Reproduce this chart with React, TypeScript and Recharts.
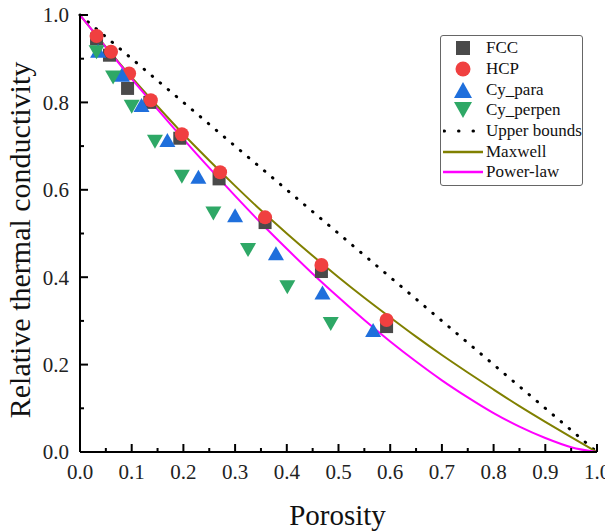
import { ComposedChart, Scatter, Line, XAxis, YAxis, Legend } from 'recharts';

// measured points (porosity, relative conductivity)
const fccX = [0.032, 0.057, 0.092, 0.135, 0.193, 0.269, 0.358, 0.467, 0.593];
const fccY = [0.945, 0.908, 0.832, 0.8, 0.718, 0.625, 0.525, 0.413, 0.287];
const hcpX = [0.032, 0.06, 0.095, 0.137, 0.197, 0.271, 0.358, 0.467, 0.593];
const hcpY = [0.952, 0.916, 0.866, 0.805, 0.727, 0.64, 0.537, 0.428, 0.302];
const paraX = [0.035, 0.081, 0.119, 0.169, 0.229, 0.3, 0.379, 0.469, 0.567];
const paraY = [0.918, 0.863, 0.794, 0.714, 0.63, 0.542, 0.455, 0.365, 0.279];
const perpX = [0.032, 0.064, 0.1, 0.145, 0.197, 0.258, 0.325, 0.401, 0.485];
const perpY = [0.915, 0.857, 0.79, 0.71, 0.63, 0.546, 0.462, 0.377, 0.293];

// model curves
const modelX = [0, 0.05, 0.1, 0.15, 0.2, 0.25, 0.3, 0.35, 0.4, 0.45, 0.5, 0.55, 0.6, 0.65, 0.7, 0.75, 0.8, 0.85, 0.9, 0.95, 1];
const maxwellY = [1, 0.927, 0.857, 0.791, 0.727, 0.667, 0.609, 0.553, 0.5, 0.449, 0.4, 0.353, 0.308, 0.264, 0.222, 0.182, 0.143, 0.105, 0.069, 0.034, 0];
const powerY = [1, 0.926, 0.854, 0.784, 0.716, 0.65, 0.586, 0.524, 0.465, 0.408, 0.354, 0.302, 0.253, 0.207, 0.164, 0.125, 0.089, 0.058, 0.032, 0.011, 0];
const boundX = [0, 1];
const boundY = [1, 0];

const xTicks = [0, 0.05, 0.1, 0.15, 0.2, 0.25, 0.3, 0.35, 0.4, 0.45, 0.5, 0.55, 0.6, 0.65, 0.7, 0.75, 0.8, 0.85, 0.9, 0.95, 1];
const yTicks = [0, 0.1, 0.2, 0.3, 0.4, 0.5, 0.6, 0.7, 0.8, 0.9, 1];

const legendNames = ['FCC', 'HCP', 'Cy_para', 'Cy_perpen', 'Upper bounds', 'Maxwell', 'Power-law'];

const zip = (xs: number[], ys: number[]) => xs.map((x, i) => ({ x, y: ys[i] }));

const FONT = '"Liberation Serif", "Times New Roman", serif';
const GRAY = '#4a4a4a';
const RED = '#f04040';
const BLUE = '#1f6fdc';
const GREEN = '#2ea866';
const OLIVE = '#808000';
const MAGENTA = '#ff00ff';

const isMajorX = (v: number) => Math.round(v * 100) % 10 === 0;
const isMajorY = (v: number) => Math.round(v * 10) % 2 === 0;

function BottomTick({ x, y, payload }: any) {
  const v = payload.value;
  const major = isMajorX(v);
  return (
    <g>
      <line x1={x} x2={x} y1={y} y2={y - (major ? 8 : 4)} stroke="#000" strokeWidth={2} />
      {major && (
        <text x={x} y={y + 27} textAnchor="middle" fontSize={21} fill="#222" style={{ fontFamily: FONT }}>
          {v.toFixed(1)}
        </text>
      )}
    </g>
  );
}

function TopTick({ x, y, payload }: any) {
  const major = isMajorX(payload.value);
  return <line x1={x} x2={x} y1={y} y2={y + (major ? 8 : 4)} stroke="#000" strokeWidth={2} />;
}

function LeftTick({ x, y, payload }: any) {
  const v = payload.value;
  const major = isMajorY(v);
  return (
    <g>
      <line x1={x} x2={x + (major ? 8 : 4)} y1={y} y2={y} stroke="#000" strokeWidth={2} />
      {major && (
        <text x={x - 11} y={y} dy="0.35em" textAnchor="end" fontSize={21} fill="#222" style={{ fontFamily: FONT }}>
          {v.toFixed(1)}
        </text>
      )}
    </g>
  );
}

function RightTick({ x, y, payload }: any) {
  const major = isMajorY(payload.value);
  return <line x1={x} x2={x - (major ? 8 : 4)} y1={y} y2={y} stroke="#000" strokeWidth={2} />;
}

const squareShape = (p: any) => <rect x={p.cx - 6.5} y={p.cy - 6.5} width={13} height={13} fill={GRAY} />;
const circleShape = (p: any) => <circle cx={p.cx} cy={p.cy} r={7} fill={RED} />;
const upShape = (p: any) => (
  <polygon points={`${p.cx - 8},${p.cy + 7} ${p.cx + 8},${p.cy + 7} ${p.cx},${p.cy - 7}`} fill={BLUE} />
);
const downShape = (p: any) => (
  <polygon points={`${p.cx - 8},${p.cy - 7} ${p.cx + 8},${p.cy - 7} ${p.cx},${p.cy + 7}`} fill={GREEN} />
);

function LegendSymbol({ i }: { i: number }) {
  const c = 20;
  const m = 10;
  if (i === 0) return <rect x={c - 7} y={m - 7} width={14} height={14} fill={GRAY} />;
  if (i === 1) return <circle cx={c} cy={m} r={7.5} fill={RED} />;
  if (i === 2) return <polygon points={`${c - 9},${m + 8} ${c + 9},${m + 8} ${c},${m - 8}`} fill={BLUE} />;
  if (i === 3) return <polygon points={`${c - 9},${m - 8} ${c + 9},${m - 8} ${c},${m + 8}`} fill={GREEN} />;
  if (i === 4)
    return <line x1={1} x2={40} y1={m} y2={m} stroke="#000" strokeWidth={3} strokeDasharray="0.5 14" strokeLinecap="round" />;
  if (i === 5) return <line x1={0} x2={40} y1={m} y2={m} stroke={OLIVE} strokeWidth={2.5} />;
  return <line x1={0} x2={40} y1={m} y2={m} stroke={MAGENTA} strokeWidth={2.5} />;
}

function LegendBox() {
  return (
    <div
      style={{
        width: 141,
        height: 147,
        border: '1px solid #666',
        borderRadius: 3,
        background: '#fff',
        paddingTop: 2,
        boxSizing: 'content-box',
      }}
    >
      {legendNames.map((name, i) => (
        <div key={name} style={{ display: 'flex', alignItems: 'center', height: 20.7 }}>
          <svg width={42} height={20} style={{ marginLeft: 2, flex: 'none' }}>
            <LegendSymbol i={i} />
          </svg>
          <span style={{ marginLeft: 1, fontFamily: FONT, fontSize: 17, color: '#111', whiteSpace: 'nowrap' }}>{name}</span>
        </div>
      ))}
    </div>
  );
}

export default function App() {
  return (
    <div style={{ marginLeft: -8, marginTop: -8, width: 613, height: 532 }}>
      <ComposedChart width={613} height={532} margin={{ top: 15, right: 16, bottom: 0, left: 8 }}>
        <XAxis
          dataKey="x"
          type="number"
          domain={[0, 1]}
          ticks={xTicks}
          interval={0}
          tickLine={false}
          tickSize={0}
          tickMargin={0}
          height={80}
          axisLine={{ stroke: '#000', strokeWidth: 2 }}
          tick={<BottomTick />}
          label={{
            content: () => (
              <text x={337.5} y={525} textAnchor="middle" fontSize={29} fill="#111" style={{ fontFamily: FONT }}>
                Porosity
              </text>
            ),
          }}
        />
        <XAxis
          xAxisId="top"
          orientation="top"
          dataKey="x"
          type="number"
          domain={[0, 1]}
          ticks={xTicks}
          interval={0}
          tickLine={false}
          tickSize={0}
          tickMargin={0}
          height={0}
          axisLine={{ stroke: '#000', strokeWidth: 2 }}
          tick={<TopTick />}
        />
        <YAxis
          type="number"
          domain={[0, 1]}
          ticks={yTicks}
          interval={0}
          tickLine={false}
          tickSize={0}
          tickMargin={0}
          width={72}
          axisLine={{ stroke: '#000', strokeWidth: 2 }}
          tick={<LeftTick />}
          label={{
            content: () => (
              <text
                x={30}
                y={240}
                transform="rotate(-90 30 240)"
                textAnchor="middle"
                fontSize={30}
                fill="#111"
                style={{ fontFamily: FONT }}
              >
                Relative thermal conductivity
              </text>
            ),
          }}
        />
        <YAxis
          yAxisId="right"
          orientation="right"
          type="number"
          domain={[0, 1]}
          ticks={yTicks}
          interval={0}
          tickLine={false}
          tickSize={0}
          tickMargin={0}
          width={0}
          axisLine={{ stroke: '#000', strokeWidth: 2 }}
          tick={<RightTick />}
        />
        <Legend
          layout="horizontal"
          verticalAlign="middle"
          align="center"
          content={() => <LegendBox />}
          wrapperStyle={{ top: 35, left: 440, width: 143, height: 150 }}
        />
        <Scatter name="FCC" data={zip(fccX, fccY)} dataKey="y" shape={squareShape} isAnimationActive={false} />
        <Scatter name="HCP" data={zip(hcpX, hcpY)} dataKey="y" shape={circleShape} isAnimationActive={false} />
        <Scatter name="Cy_para" data={zip(paraX, paraY)} dataKey="y" shape={upShape} isAnimationActive={false} />
        <Scatter name="Cy_perpen" data={zip(perpX, perpY)} dataKey="y" shape={downShape} isAnimationActive={false} />
        <Line
          name="Upper bounds"
          data={zip(boundX, boundY)}
          dataKey="y"
          type="linear"
          stroke="#000"
          strokeWidth={3}
          strokeDasharray="0.5 10"
          strokeLinecap="round"
          dot={false}
          isAnimationActive={false}
        />
        <Line
          name="Maxwell"
          data={zip(modelX, maxwellY)}
          dataKey="y"
          type="monotone"
          stroke={OLIVE}
          strokeWidth={2}
          dot={false}
          isAnimationActive={false}
        />
        <Line
          name="Power-law"
          data={zip(modelX, powerY)}
          dataKey="y"
          type="monotone"
          stroke={MAGENTA}
          strokeWidth={2}
          dot={false}
          isAnimationActive={false}
        />
      </ComposedChart>
    </div>
  );
}
